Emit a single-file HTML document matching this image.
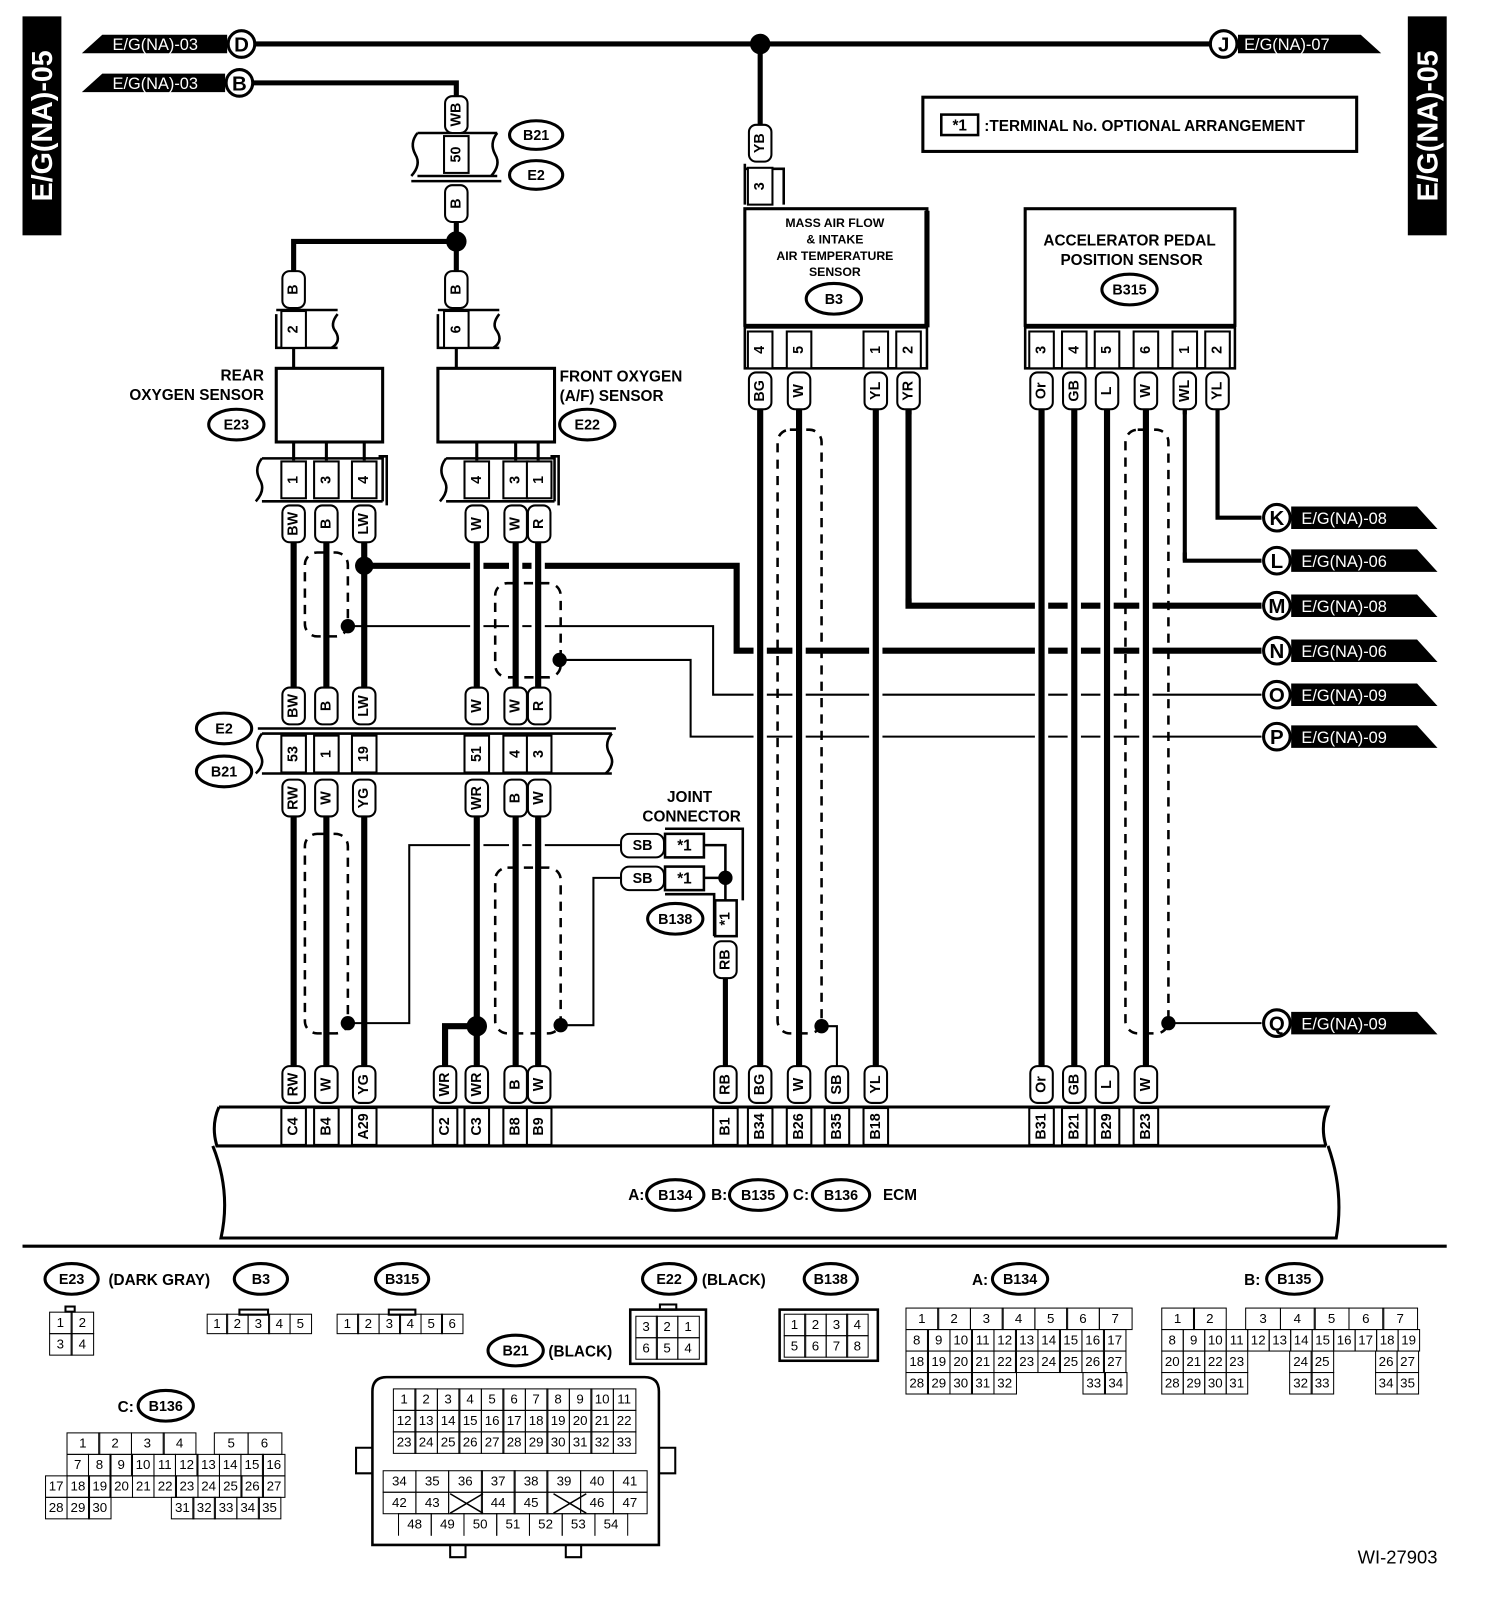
<!DOCTYPE html>
<html><head><meta charset="utf-8">
<style>
html,body{margin:0;padding:0;background:#fff;}
body{width:1504px;height:1608px;overflow:hidden;position:relative;}
#w{position:absolute;left:0;top:0;width:1470px;height:1572px;transform:scale(1.02313);transform-origin:0 0;}
svg{position:absolute;left:0;top:0;}
text{font-family:"Liberation Sans",sans-serif;font-weight:bold;}
.v{text-anchor:middle;dominant-baseline:central;font-size:14px;}
.c{text-anchor:middle;dominant-baseline:central;}
.t{fill:#fff;font-size:16px;font-weight:normal;}
.n{font-weight:normal;}
.row{position:absolute;display:flex;height:22px;font-family:"Liberation Sans Narrow","Liberation Sans",sans-serif;font-size:13px;}
.row i{font-style:normal;border:1.5px solid #000;margin-left:-1.5px;box-sizing:border-box;height:22px;line-height:19px;text-align:center;display:block;}
.row i.b{border-color:transparent;}
</style></head><body><div id="w">
<svg width="1470" height="1572" viewBox="0 0 1470 1572">
<defs>
<rect id="pv" x="-11" y="-18" width="22" height="36" rx="7" fill="#fff" stroke="#000" stroke-width="2"/>
<rect id="pc" x="-12" y="-18" width="24" height="36" fill="#fff" stroke="#000" stroke-width="2"/>
</defs>
<rect x="22" y="16" width="38" height="214" fill="#000"/>
<text transform="translate(42,123) rotate(-90)" class="c" fill="#fff" font-size="28">E/G(NA)-05</text>
<rect x="1376" y="16" width="38" height="214" fill="#000"/>
<text transform="translate(1396,123) rotate(-90)" class="c" fill="#fff" font-size="28">E/G(NA)-05</text>

<g fill="none" stroke="#000" stroke-width="5">
<path d="M249,43 H1183"/>
<path d="M247,81 H446 V95"/>
<path d="M743,43 V122"/>
<path d="M446,216 V236 H287 V265"/>
<path d="M446,236 V265"/>
</g>
<polygon points="80,52 100,34 222,34 222,52" fill="#000"/>
<text x="110" y="49" class="t">E/G(NA)-03</text>
<polygon points="80,90 100,72 220,72 220,90" fill="#000"/>
<text x="110" y="87" class="t">E/G(NA)-03</text>
<circle cx="236" cy="43" r="13" fill="#fff" stroke="#000" stroke-width="3"/><text x="236" y="44" class="c" font-size="20">D</text>
<circle cx="234" cy="81" r="13" fill="#fff" stroke="#000" stroke-width="3"/><text x="234" y="82" class="c" font-size="20">B</text>
<polygon points="1210,34 1330,34 1350,52 1210,52" fill="#000"/>
<text x="1216" y="49" class="t">E/G(NA)-07</text>
<circle cx="1196" cy="43" r="13" fill="#fff" stroke="#000" stroke-width="3"/><text x="1196" y="44" class="c" font-size="20">J</text>
<circle cx="743" cy="43" r="10"/>
<circle cx="446" cy="236" r="10"/>

<rect x="902" y="95" width="424" height="53" fill="none" stroke="#000" stroke-width="3"/>
<rect x="920" y="112" width="36" height="20" fill="none" stroke="#000" stroke-width="2.5"/>
<text x="938" y="123" class="c" font-size="15">*1</text>
<text x="962" y="128" font-size="15">:TERMINAL No. OPTIONAL ARRANGEMENT</text>

<g fill="none" stroke="#000" stroke-width="2.5">
<path d="M408,130 H486 M408,172 H486 M402,177 H490"/>
<path d="M408,130 q-8,10 -2,21 q6,10 -4,21"/>
<path d="M486,130 q-8,10 -2,21 q6,10 -4,21"/>
</g>
<g transform="translate(446,151)"><use href="#pc"/><text transform="rotate(-90)" class="v">50</text></g>
<g transform="translate(446,112)"><use href="#pv"/><text transform="rotate(-90)" class="v">WB</text></g>
<g transform="translate(446,199)"><use href="#pv"/><text transform="rotate(-90)" class="v">B</text></g>
<ellipse cx="524" cy="132" rx="26" ry="14" fill="#fff" stroke="#000" stroke-width="3"/><text x="524" y="133" class="c" font-size="14">B21</text>
<ellipse cx="524" cy="171" rx="26" ry="14" fill="#fff" stroke="#000" stroke-width="3"/><text x="524" y="172" class="c" font-size="14">E2</text>

<g transform="translate(287,283)"><use href="#pv"/><text transform="rotate(-90)" class="v">B</text></g>
<g transform="translate(446,283)"><use href="#pv"/><text transform="rotate(-90)" class="v">B</text></g>
<g fill="none" stroke="#000" stroke-width="2.5">
<path d="M270,303 H330 M270,307 V340 H330 M330,307 q-8,10 -2,17 q6,10 -4,16"/>
<path d="M428,303 H488 M428,307 V340 H488 M488,307 q-8,10 -2,17 q6,10 -4,16"/>
<path d="M287,340 V360 M446,340 V360" stroke-width="3"/>
</g>
<g transform="translate(287,322)"><use href="#pc"/><text transform="rotate(-90)" class="v">2</text></g>
<g transform="translate(446,322)"><use href="#pc"/><text transform="rotate(-90)" class="v">6</text></g>

<rect x="270" y="360" width="104" height="72" fill="none" stroke="#000" stroke-width="3"/>
<rect x="428" y="360" width="114" height="72" fill="none" stroke="#000" stroke-width="3"/>
<text x="258" y="372" text-anchor="end" font-size="15">REAR</text>
<text x="258" y="391" text-anchor="end" font-size="15">OXYGEN SENSOR</text>
<text x="547" y="373" font-size="15">FRONT OXYGEN</text>
<text x="547" y="392" font-size="15">(A/F) SENSOR</text>
<ellipse cx="231" cy="415" rx="27" ry="15" fill="#fff" stroke="#000" stroke-width="3"/><text x="231" y="416" class="c" font-size="14">E23</text>
<ellipse cx="574" cy="415" rx="27" ry="15" fill="#fff" stroke="#000" stroke-width="3"/><text x="574" y="416" class="c" font-size="14">E22</text>
<g stroke="#000" stroke-width="3"><path d="M287,432V450M319,432V450M356,432V450M466,432V450M504,432V450M526,432V450"/></g>
<g fill="none" stroke="#000" stroke-width="2.5">
<path d="M256,448 H374 V490 M256,490 H374 M256,448 q-8,10 -2,21 q6,10 -4,21 M370,446 H378 V494"/>
<path d="M436,448 H542 V490 M436,490 H542 M436,448 q-8,10 -2,21 q6,10 -4,21 M538,446 H546 V494"/>
</g>
<g transform="translate(287,469)"><use href="#pc"/><text transform="rotate(-90)" class="v">1</text></g>
<g transform="translate(319,469)"><use href="#pc"/><text transform="rotate(-90)" class="v">3</text></g>
<g transform="translate(356,469)"><use href="#pc"/><text transform="rotate(-90)" class="v">4</text></g>
<g transform="translate(466,469)"><use href="#pc"/><text transform="rotate(-90)" class="v">4</text></g>
<g transform="translate(504,469)"><use href="#pc"/><text transform="rotate(-90)" class="v">3</text></g>
<g transform="translate(527,469)"><use href="#pc"/><text transform="rotate(-90)" class="v">1</text></g>

<g fill="none" stroke="#000">
<path d="M356,553 H720 V636 H1233" stroke-width="6"/>
<path d="M888,400 V592 H1233" stroke-width="6"/>
<path d="M1158,400 V548 H1233" stroke-width="4"/>
<path d="M1190,400 V506 H1233" stroke-width="4"/>
<path d="M340,612 H697 V679 H1233" stroke-width="2"/>
<path d="M547,645 H675 V720 H1233" stroke-width="2"/>
<path d="M340,1000 H400 V826 H606" stroke-width="2"/>
<path d="M548,1002 H580 V858 H606" stroke-width="2"/>
<path d="M1142,1000 H1233" stroke-width="2"/>
<path d="M803,1003 H818 V1042" stroke-width="2"/>
<path d="M466,1003 H435 V1042" stroke-width="6"/>
</g>

<g fill="none" stroke="#fff" stroke-width="13">
<path d="M466,535V667M504,535V667M526,535V667M466,805V995M504,805V1035M526,805V1035M743,405V1035M781,405V1035M856,405V1035M1018,405V1035M1050,405V1035M1082,405V1035M1120,405V1035M888,405V585M1158,405V540"/>
</g>
<g fill="none" stroke="#000" stroke-width="6">
<path d="M287,530V672M319,530V672M356,530V672M466,530V672M504,530V672M526,530V672"/>
<path d="M287,798V1042M319,798V1042M356,798V1042M466,798V1042M504,798V1042M526,798V1042"/>
<path d="M743,400V1042M781,400V1042M856,400V1042M1018,400V1042M1050,400V1042M1082,400V1042M1120,400V1042"/>
<path d="M709,956V1042" stroke-width="5"/>
</g>
<path d="M888,400 V592" stroke="#000" stroke-width="6"/>
<path d="M1158,400 V548 M1190,400 V506" stroke="#000" stroke-width="4"/>

<g fill="none" stroke="#000" stroke-width="2.5" stroke-dasharray="9 7">
<rect x="298" y="540" width="42" height="82" rx="12"/>
<rect x="484" y="570" width="64" height="92" rx="12"/>
<rect x="298" y="815" width="42" height="195" rx="12"/>
<rect x="484" y="848" width="64" height="162" rx="12"/>
<rect x="760" y="420" width="43" height="590" rx="12"/>
<rect x="1100" y="420" width="42" height="590" rx="12"/>
</g>
<g>
<circle cx="356" cy="553" r="9"/><circle cx="340" cy="612" r="7"/><circle cx="547" cy="645" r="7"/>
<circle cx="340" cy="1000" r="7"/><circle cx="548" cy="1002" r="7"/><circle cx="466" cy="1003" r="10"/>
<circle cx="803" cy="1003" r="7"/><circle cx="1142" cy="1000" r="7"/>
</g>

<g transform="translate(287,512)"><use href="#pv"/><text transform="rotate(-90)" class="v">BW</text></g>
<g transform="translate(319,512)"><use href="#pv"/><text transform="rotate(-90)" class="v">B</text></g>
<g transform="translate(356,512)"><use href="#pv"/><text transform="rotate(-90)" class="v">LW</text></g>
<g transform="translate(466,512)"><use href="#pv"/><text transform="rotate(-90)" class="v">W</text></g>
<g transform="translate(504,512)"><use href="#pv"/><text transform="rotate(-90)" class="v">W</text></g>
<g transform="translate(527,512)"><use href="#pv"/><text transform="rotate(-90)" class="v">R</text></g>
<g transform="translate(287,690)"><use href="#pv"/><text transform="rotate(-90)" class="v">BW</text></g>
<g transform="translate(319,690)"><use href="#pv"/><text transform="rotate(-90)" class="v">B</text></g>
<g transform="translate(356,690)"><use href="#pv"/><text transform="rotate(-90)" class="v">LW</text></g>
<g transform="translate(466,690)"><use href="#pv"/><text transform="rotate(-90)" class="v">W</text></g>
<g transform="translate(504,690)"><use href="#pv"/><text transform="rotate(-90)" class="v">W</text></g>
<g transform="translate(527,690)"><use href="#pv"/><text transform="rotate(-90)" class="v">R</text></g>

<g fill="none" stroke="#000" stroke-width="2.5">
<path d="M252,712 H602 M256,717 H598 M256,756 H598"/>
<path d="M256,717 q-8,10 -2,20 q6,10 -4,19"/>
<path d="M598,717 q-8,10 -2,20 q6,10 -4,19"/>
</g>
<g transform="translate(287,737)"><use href="#pc"/><text transform="rotate(-90)" class="v">53</text></g>
<g transform="translate(319,737)"><use href="#pc"/><text transform="rotate(-90)" class="v">1</text></g>
<g transform="translate(356,737)"><use href="#pc"/><text transform="rotate(-90)" class="v">19</text></g>
<g transform="translate(466,737)"><use href="#pc"/><text transform="rotate(-90)" class="v">51</text></g>
<g transform="translate(504,737)"><use href="#pc"/><text transform="rotate(-90)" class="v">4</text></g>
<g transform="translate(527,737)"><use href="#pc"/><text transform="rotate(-90)" class="v">3</text></g>
<ellipse cx="219" cy="712" rx="27" ry="15" fill="#fff" stroke="#000" stroke-width="3"/><text x="219" y="713" class="c" font-size="14">E2</text>
<ellipse cx="219" cy="754" rx="27" ry="15" fill="#fff" stroke="#000" stroke-width="3"/><text x="219" y="755" class="c" font-size="14">B21</text>
<g transform="translate(287,780)"><use href="#pv"/><text transform="rotate(-90)" class="v">RW</text></g>
<g transform="translate(319,780)"><use href="#pv"/><text transform="rotate(-90)" class="v">W</text></g>
<g transform="translate(356,780)"><use href="#pv"/><text transform="rotate(-90)" class="v">YG</text></g>
<g transform="translate(466,780)"><use href="#pv"/><text transform="rotate(-90)" class="v">WR</text></g>
<g transform="translate(504,780)"><use href="#pv"/><text transform="rotate(-90)" class="v">B</text></g>
<g transform="translate(527,780)"><use href="#pv"/><text transform="rotate(-90)" class="v">W</text></g>

<text x="674" y="784" text-anchor="middle" font-size="15">JOINT</text>
<text x="676" y="803" text-anchor="middle" font-size="15">CONNECTOR</text>
<g fill="none" stroke="#000" stroke-width="2.5">
<path d="M650,810 H726 V880 M650,874 H698 V915"/>
<rect x="650" y="815" width="38" height="23" fill="#fff"/>
<rect x="650" y="847" width="38" height="23" fill="#fff"/>
<path d="M688,826 H709 V880 M688,858 H709"/>
<rect x="699" y="880" width="21" height="35" fill="#fff"/>
</g>
<circle cx="709" cy="858" r="7"/>
<text x="669" y="827" class="c" font-size="15">*1</text>
<text x="669" y="859" class="c" font-size="15">*1</text>
<text transform="translate(709,898) rotate(-90)" class="v" font-size="15">*1</text>
<rect x="607" y="815" width="42" height="23" rx="8" fill="#fff" stroke="#000" stroke-width="2"/><text x="628" y="827" class="c" font-size="14">SB</text>
<rect x="607" y="847" width="42" height="23" rx="8" fill="#fff" stroke="#000" stroke-width="2"/><text x="628" y="859" class="c" font-size="14">SB</text>
<ellipse cx="660" cy="898" rx="27" ry="15" fill="#fff" stroke="#000" stroke-width="3"/><text x="660" y="899" class="c" font-size="14">B138</text>
<g transform="translate(709,938)"><use href="#pv"/><text transform="rotate(-90)" class="v">RB</text></g>

<g fill="none" stroke="#000" stroke-width="2.5"><path d="M728,165 H766 V200 M728,160 V200"/></g>
<g transform="translate(743,140)"><use href="#pv"/><text transform="rotate(-90)" class="v">YB</text></g>
<g transform="translate(743,182)"><use href="#pc"/><text transform="rotate(-90)" class="v">3</text></g>
<rect x="728" y="204" width="178" height="114" fill="none" stroke="#000" stroke-width="3"/>
<path d="M906,206 V320" stroke="#000" stroke-width="5"/>
<text x="816" y="222" text-anchor="middle" font-size="12">MASS AIR FLOW</text>
<text x="816" y="238" text-anchor="middle" font-size="12">&amp; INTAKE</text>
<text x="816" y="254" text-anchor="middle" font-size="12">AIR TEMPERATURE</text>
<text x="816" y="270" text-anchor="middle" font-size="12">SENSOR</text>
<ellipse cx="815" cy="292" rx="27" ry="15" fill="#fff" stroke="#000" stroke-width="3"/><text x="815" y="293" class="c" font-size="14">B3</text>
<rect x="728" y="320" width="178" height="40" fill="none" stroke="#000" stroke-width="2.5"/>
<g transform="translate(743,342)"><use href="#pc"/><text transform="rotate(-90)" class="v">4</text></g>
<g transform="translate(781,342)"><use href="#pc"/><text transform="rotate(-90)" class="v">5</text></g>
<g transform="translate(856,342)"><use href="#pc"/><text transform="rotate(-90)" class="v">1</text></g>
<g transform="translate(888,342)"><use href="#pc"/><text transform="rotate(-90)" class="v">2</text></g>
<g transform="translate(743,382)"><use href="#pv"/><text transform="rotate(-90)" class="v">BG</text></g>
<g transform="translate(781,382)"><use href="#pv"/><text transform="rotate(-90)" class="v">W</text></g>
<g transform="translate(856,382)"><use href="#pv"/><text transform="rotate(-90)" class="v">YL</text></g>
<g transform="translate(888,382)"><use href="#pv"/><text transform="rotate(-90)" class="v">YR</text></g>

<rect x="1002" y="204" width="205" height="114" fill="none" stroke="#000" stroke-width="3"/>
<text x="1104" y="240" text-anchor="middle" font-size="15">ACCELERATOR PEDAL</text>
<text x="1106" y="259" text-anchor="middle" font-size="15">POSITION SENSOR</text>
<ellipse cx="1104" cy="283" rx="27" ry="15" fill="#fff" stroke="#000" stroke-width="3"/><text x="1104" y="284" class="c" font-size="14">B315</text>
<rect x="1002" y="320" width="205" height="40" fill="none" stroke="#000" stroke-width="2.5"/>
<g transform="translate(1018,342)"><use href="#pc"/><text transform="rotate(-90)" class="v">3</text></g>
<g transform="translate(1050,342)"><use href="#pc"/><text transform="rotate(-90)" class="v">4</text></g>
<g transform="translate(1082,342)"><use href="#pc"/><text transform="rotate(-90)" class="v">5</text></g>
<g transform="translate(1120,342)"><use href="#pc"/><text transform="rotate(-90)" class="v">6</text></g>
<g transform="translate(1158,342)"><use href="#pc"/><text transform="rotate(-90)" class="v">1</text></g>
<g transform="translate(1190,342)"><use href="#pc"/><text transform="rotate(-90)" class="v">2</text></g>
<g transform="translate(1018,382)"><use href="#pv"/><text transform="rotate(-90)" class="v">Or</text></g>
<g transform="translate(1050,382)"><use href="#pv"/><text transform="rotate(-90)" class="v">GB</text></g>
<g transform="translate(1082,382)"><use href="#pv"/><text transform="rotate(-90)" class="v">L</text></g>
<g transform="translate(1120,382)"><use href="#pv"/><text transform="rotate(-90)" class="v">W</text></g>
<g transform="translate(1158,382)"><use href="#pv"/><text transform="rotate(-90)" class="v">WL</text></g>
<g transform="translate(1190,382)"><use href="#pv"/><text transform="rotate(-90)" class="v">YL</text></g>

<g>
<polygon points="1262,495 1385,495 1405,517 1262,517"/><circle cx="1248" cy="506" r="13" fill="#fff" stroke="#000" stroke-width="3"/><text x="1248" y="507" class="c" font-size="20">K</text><text x="1272" y="512" class="t">E/G(NA)-08</text>
<polygon points="1262,537 1385,537 1405,559 1262,559"/><circle cx="1248" cy="548" r="13" fill="#fff" stroke="#000" stroke-width="3"/><text x="1248" y="549" class="c" font-size="20">L</text><text x="1272" y="554" class="t">E/G(NA)-06</text>
<polygon points="1262,581 1385,581 1405,603 1262,603"/><circle cx="1248" cy="592" r="13" fill="#fff" stroke="#000" stroke-width="3"/><text x="1248" y="593" class="c" font-size="20">M</text><text x="1272" y="598" class="t">E/G(NA)-08</text>
<polygon points="1262,625 1385,625 1405,647 1262,647"/><circle cx="1248" cy="636" r="13" fill="#fff" stroke="#000" stroke-width="3"/><text x="1248" y="637" class="c" font-size="20">N</text><text x="1272" y="642" class="t">E/G(NA)-06</text>
<polygon points="1262,668 1385,668 1405,690 1262,690"/><circle cx="1248" cy="679" r="13" fill="#fff" stroke="#000" stroke-width="3"/><text x="1248" y="680" class="c" font-size="20">O</text><text x="1272" y="685" class="t">E/G(NA)-09</text>
<polygon points="1262,709 1385,709 1405,731 1262,731"/><circle cx="1248" cy="720" r="13" fill="#fff" stroke="#000" stroke-width="3"/><text x="1248" y="721" class="c" font-size="20">P</text><text x="1272" y="726" class="t">E/G(NA)-09</text>
<polygon points="1262,989 1385,989 1405,1011 1262,1011"/><circle cx="1248" cy="1000" r="13" fill="#fff" stroke="#000" stroke-width="3"/><text x="1248" y="1001" class="c" font-size="20">Q</text><text x="1272" y="1006" class="t">E/G(NA)-09</text>
</g>

<g fill="none" stroke="#000" stroke-width="3">
<path d="M214,1082 H1298 q-8,18 -2,38 M214,1082 q-8,18 -2,38 H1296"/>
<path d="M208,1120 q18,45 8,90 H1306 q8,-45 -8,-90"/>
</g>
<g transform="translate(287,1060)"><use href="#pv"/><text transform="rotate(-90)" class="v">RW</text></g>
<g transform="translate(319,1060)"><use href="#pv"/><text transform="rotate(-90)" class="v">W</text></g>
<g transform="translate(356,1060)"><use href="#pv"/><text transform="rotate(-90)" class="v">YG</text></g>
<g transform="translate(435,1060)"><use href="#pv"/><text transform="rotate(-90)" class="v">WR</text></g>
<g transform="translate(466,1060)"><use href="#pv"/><text transform="rotate(-90)" class="v">WR</text></g>
<g transform="translate(504,1060)"><use href="#pv"/><text transform="rotate(-90)" class="v">B</text></g>
<g transform="translate(527,1060)"><use href="#pv"/><text transform="rotate(-90)" class="v">W</text></g>
<g transform="translate(709,1060)"><use href="#pv"/><text transform="rotate(-90)" class="v">RB</text></g>
<g transform="translate(743,1060)"><use href="#pv"/><text transform="rotate(-90)" class="v">BG</text></g>
<g transform="translate(781,1060)"><use href="#pv"/><text transform="rotate(-90)" class="v">W</text></g>
<g transform="translate(818,1060)"><use href="#pv"/><text transform="rotate(-90)" class="v">SB</text></g>
<g transform="translate(856,1060)"><use href="#pv"/><text transform="rotate(-90)" class="v">YL</text></g>
<g transform="translate(1018,1060)"><use href="#pv"/><text transform="rotate(-90)" class="v">Or</text></g>
<g transform="translate(1050,1060)"><use href="#pv"/><text transform="rotate(-90)" class="v">GB</text></g>
<g transform="translate(1082,1060)"><use href="#pv"/><text transform="rotate(-90)" class="v">L</text></g>
<g transform="translate(1120,1060)"><use href="#pv"/><text transform="rotate(-90)" class="v">W</text></g>
<g transform="translate(287,1101)"><use href="#pc"/><text transform="rotate(-90)" class="v">C4</text></g>
<g transform="translate(319,1101)"><use href="#pc"/><text transform="rotate(-90)" class="v">B4</text></g>
<g transform="translate(356,1101)"><use href="#pc"/><text transform="rotate(-90)" class="v">A29</text></g>
<g transform="translate(435,1101)"><use href="#pc"/><text transform="rotate(-90)" class="v">C2</text></g>
<g transform="translate(466,1101)"><use href="#pc"/><text transform="rotate(-90)" class="v">C3</text></g>
<g transform="translate(504,1101)"><use href="#pc"/><text transform="rotate(-90)" class="v">B8</text></g>
<g transform="translate(527,1101)"><use href="#pc"/><text transform="rotate(-90)" class="v">B9</text></g>
<g transform="translate(709,1101)"><use href="#pc"/><text transform="rotate(-90)" class="v">B1</text></g>
<g transform="translate(743,1101)"><use href="#pc"/><text transform="rotate(-90)" class="v">B34</text></g>
<g transform="translate(781,1101)"><use href="#pc"/><text transform="rotate(-90)" class="v">B26</text></g>
<g transform="translate(818,1101)"><use href="#pc"/><text transform="rotate(-90)" class="v">B35</text></g>
<g transform="translate(856,1101)"><use href="#pc"/><text transform="rotate(-90)" class="v">B18</text></g>
<g transform="translate(1018,1101)"><use href="#pc"/><text transform="rotate(-90)" class="v">B31</text></g>
<g transform="translate(1050,1101)"><use href="#pc"/><text transform="rotate(-90)" class="v">B21</text></g>
<g transform="translate(1082,1101)"><use href="#pc"/><text transform="rotate(-90)" class="v">B29</text></g>
<g transform="translate(1120,1101)"><use href="#pc"/><text transform="rotate(-90)" class="v">B23</text></g>
<text x="614" y="1173" font-size="15">A:</text>
<ellipse cx="660" cy="1168" rx="28" ry="15" fill="#fff" stroke="#000" stroke-width="3"/><text x="660" y="1169" class="c" font-size="14">B134</text>
<text x="695" y="1173" font-size="15">B:</text>
<ellipse cx="741" cy="1168" rx="28" ry="15" fill="#fff" stroke="#000" stroke-width="3"/><text x="741" y="1169" class="c" font-size="14">B135</text>
<text x="775" y="1173" font-size="15">C:</text>
<ellipse cx="822" cy="1168" rx="28" ry="15" fill="#fff" stroke="#000" stroke-width="3"/><text x="822" y="1169" class="c" font-size="14">B136</text>
<text x="863" y="1173" font-size="15">ECM</text>

<path d="M22,1218 H1414" stroke="#000" stroke-width="3"/>

<ellipse cx="70" cy="1250" rx="26" ry="15" fill="#fff" stroke="#000" stroke-width="3"/><text x="70" y="1251" class="c" font-size="14">E23</text>
<text x="106" y="1256" font-size="15">(DARK GRAY)</text>
<ellipse cx="255" cy="1250" rx="26" ry="15" fill="#fff" stroke="#000" stroke-width="3"/><text x="255" y="1251" class="c" font-size="14">B3</text>
<ellipse cx="393" cy="1250" rx="26" ry="15" fill="#fff" stroke="#000" stroke-width="3"/><text x="393" y="1251" class="c" font-size="14">B315</text>
<ellipse cx="654" cy="1250" rx="26" ry="15" fill="#fff" stroke="#000" stroke-width="3"/><text x="654" y="1251" class="c" font-size="14">E22</text>
<text x="686" y="1256" font-size="15">(BLACK)</text>
<ellipse cx="812" cy="1250" rx="26" ry="15" fill="#fff" stroke="#000" stroke-width="3"/><text x="812" y="1251" class="c" font-size="14">B138</text>
<text x="950" y="1256" font-size="15">A:</text>
<ellipse cx="997" cy="1250" rx="27" ry="15" fill="#fff" stroke="#000" stroke-width="3"/><text x="997" y="1251" class="c" font-size="14">B134</text>
<text x="1216" y="1256" font-size="15">B:</text>
<ellipse cx="1265" cy="1250" rx="27" ry="15" fill="#fff" stroke="#000" stroke-width="3"/><text x="1265" y="1251" class="c" font-size="14">B135</text>
<ellipse cx="504" cy="1320" rx="27" ry="15" fill="#fff" stroke="#000" stroke-width="3"/><text x="504" y="1321" class="c" font-size="14">B21</text>
<text x="536" y="1326" font-size="15">(BLACK)</text>
<text x="115" y="1380" font-size="15">C:</text>
<ellipse cx="162" cy="1374" rx="27" ry="15" fill="#fff" stroke="#000" stroke-width="3"/><text x="162" y="1375" class="c" font-size="14">B136</text>

<g fill="none" stroke="#000" stroke-width="2">
<rect x="64" y="1277" width="9" height="5"/>
<rect x="234" y="1280" width="28" height="5"/>
<rect x="380" y="1280" width="26" height="5"/>
<rect x="616" y="1280" width="74" height="53" stroke-width="2.5"/>
<rect x="645" y="1275" width="16" height="5"/>
<rect x="762" y="1280" width="96" height="50" stroke-width="2.5"/>
<path d="M364,1360 q0,-14 14,-14 H630 q14,0 14,14 V1510 H364 Z" stroke-width="2.5"/>
<path d="M364,1415 H348 V1440 H364 M644,1415 H660 V1440 H644"/>
<path d="M440,1510 V1522 H455 V1510 M553,1510 V1522 H568 V1510"/>
</g>
<text x="1405" y="1528" text-anchor="end" font-size="18" class="n">WI-27903</text>
</svg>

<div class="row" style="left:49px;top:1282px"><i style="width:23px">1</i><i style="width:23px">2</i></div>
<div class="row" style="left:49px;top:1303px"><i style="width:23px">3</i><i style="width:23px">4</i></div>
<div class="row" style="left:203px;top:1284px;height:20px"><i style="width:21px;height:20px;line-height:17px">1</i><i style="width:22px;height:20px;line-height:17px">2</i><i style="width:22px;height:20px;line-height:17px">3</i><i style="width:22px;height:20px;line-height:17px">4</i><i style="width:22px;height:20px;line-height:17px">5</i></div>
<div class="row" style="left:330px;top:1284px;height:20px"><i style="width:22px;height:20px;line-height:17px">1</i><i style="width:22px;height:20px;line-height:17px">2</i><i style="width:22px;height:20px;line-height:17px">3</i><i style="width:22px;height:20px;line-height:17px">4</i><i style="width:22px;height:20px;line-height:17px">5</i><i style="width:22px;height:20px;line-height:17px">6</i></div>
<div class="row" style="left:622px;top:1286px"><i style="width:22px">3</i><i style="width:22px">2</i><i style="width:22px">1</i></div>
<div class="row" style="left:622px;top:1307px"><i style="width:22px">6</i><i style="width:22px">5</i><i style="width:22px">4</i></div>
<div class="row" style="left:767px;top:1284px"><i style="width:22px">1</i><i style="width:22px">2</i><i style="width:22px">3</i><i style="width:22px">4</i></div>
<div class="row" style="left:767px;top:1305px"><i style="width:22px">5</i><i style="width:22px">6</i><i style="width:22px">7</i><i style="width:22px">8</i></div>

<div class="row" style="left:886px;top:1278px"><i style="width:33px">1</i><i style="width:33px">2</i><i style="width:33px">3</i><i style="width:33px">4</i><i style="width:33px">5</i><i style="width:33px">6</i><i style="width:33px">7</i></div>
<div class="row" style="left:886px;top:1299px"><i style="width:23px">8</i><i style="width:23px">9</i><i style="width:23px">10</i><i style="width:23px">11</i><i style="width:23px">12</i><i style="width:23px">13</i><i style="width:23px">14</i><i style="width:23px">15</i><i style="width:23px">16</i><i style="width:23px">17</i></div>
<div class="row" style="left:886px;top:1320px"><i style="width:23px">18</i><i style="width:23px">19</i><i style="width:23px">20</i><i style="width:23px">21</i><i style="width:23px">22</i><i style="width:23px">23</i><i style="width:23px">24</i><i style="width:23px">25</i><i style="width:23px">26</i><i style="width:23px">27</i></div>
<div class="row" style="left:886px;top:1341px"><i style="width:23px">28</i><i style="width:23px">29</i><i style="width:23px">30</i><i style="width:23px">31</i><i style="width:23px">32</i><i class="b" style="width:67px"></i><i style="width:23px">33</i><i style="width:23px">34</i></div>

<div class="row" style="left:1136px;top:1278px"><i style="width:33px">1</i><i style="width:33px">2</i><i class="b" style="width:21px"></i><i style="width:35px">3</i><i style="width:35px">4</i><i style="width:35px">5</i><i style="width:35px">6</i><i style="width:35px">7</i></div>
<div class="row" style="left:1136px;top:1299px"><i style="width:22.5px">8</i><i style="width:22.5px">9</i><i style="width:22.5px">10</i><i style="width:22.5px">11</i><i style="width:22.5px">12</i><i style="width:22.5px">13</i><i style="width:22.5px">14</i><i style="width:22.5px">15</i><i style="width:22.5px">16</i><i style="width:22.5px">17</i><i style="width:22.5px">18</i><i style="width:22.5px">19</i></div>
<div class="row" style="left:1136px;top:1320px"><i style="width:22.5px">20</i><i style="width:22.5px">21</i><i style="width:22.5px">22</i><i style="width:22.5px">23</i><i class="b" style="width:43px"></i><i style="width:22.5px">24</i><i style="width:22.5px">25</i><i class="b" style="width:43px"></i><i style="width:22.5px">26</i><i style="width:22.5px">27</i></div>
<div class="row" style="left:1136px;top:1341px"><i style="width:22.5px">28</i><i style="width:22.5px">29</i><i style="width:22.5px">30</i><i style="width:22.5px">31</i><i class="b" style="width:43px"></i><i style="width:22.5px">32</i><i style="width:22.5px">33</i><i class="b" style="width:43px"></i><i style="width:22.5px">34</i><i style="width:22.5px">35</i></div>

<div class="row" style="left:66px;top:1400px"><i style="width:33px">1</i><i style="width:33px">2</i><i style="width:33px">3</i><i style="width:33px">4</i><i class="b" style="width:20px"></i><i style="width:34px">5</i><i style="width:34px">6</i></div>
<div class="row" style="left:66px;top:1421px"><i style="width:22.8px">7</i><i style="width:22.8px">8</i><i style="width:22.8px">9</i><i style="width:22.8px">10</i><i style="width:22.8px">11</i><i style="width:22.8px">12</i><i style="width:22.8px">13</i><i style="width:22.8px">14</i><i style="width:22.8px">15</i><i style="width:22.8px">16</i></div>
<div class="row" style="left:45px;top:1442px"><i style="width:22.8px">17</i><i style="width:22.8px">18</i><i style="width:22.8px">19</i><i style="width:22.8px">20</i><i style="width:22.8px">21</i><i style="width:22.8px">22</i><i style="width:22.8px">23</i><i style="width:22.8px">24</i><i style="width:22.8px">25</i><i style="width:22.8px">26</i><i style="width:22.8px">27</i></div>
<div class="row" style="left:45px;top:1463px"><i style="width:22.8px">28</i><i style="width:22.8px">29</i><i style="width:22.8px">30</i><i class="b" style="width:61px"></i><i style="width:22.8px">31</i><i style="width:22.8px">32</i><i style="width:22.8px">33</i><i style="width:22.8px">34</i><i style="width:22.8px">35</i></div>

<div class="row" style="left:385px;top:1357px"><i style="width:23px">1</i><i style="width:23px">2</i><i style="width:23px">3</i><i style="width:23px">4</i><i style="width:23px">5</i><i style="width:23px">6</i><i style="width:23px">7</i><i style="width:23px">8</i><i style="width:23px">9</i><i style="width:23px">10</i><i style="width:23px">11</i></div>
<div class="row" style="left:385px;top:1378px"><i style="width:23px">12</i><i style="width:23px">13</i><i style="width:23px">14</i><i style="width:23px">15</i><i style="width:23px">16</i><i style="width:23px">17</i><i style="width:23px">18</i><i style="width:23px">19</i><i style="width:23px">20</i><i style="width:23px">21</i><i style="width:23px">22</i></div>
<div class="row" style="left:385px;top:1399px"><i style="width:23px">23</i><i style="width:23px">24</i><i style="width:23px">25</i><i style="width:23px">26</i><i style="width:23px">27</i><i style="width:23px">28</i><i style="width:23px">29</i><i style="width:23px">30</i><i style="width:23px">31</i><i style="width:23px">32</i><i style="width:23px">33</i></div>
<div class="row" style="left:375px;top:1437px"><i style="width:33.7px">34</i><i style="width:33.7px">35</i><i style="width:33.7px">36</i><i style="width:33.7px">37</i><i style="width:33.7px">38</i><i style="width:33.7px">39</i><i style="width:33.7px">40</i><i style="width:33.7px">41</i></div>
<div class="row" style="left:375px;top:1458px"><i style="width:33.7px">42</i><i style="width:33.7px">43</i><i style="width:33.7px"></i><i style="width:33.7px">44</i><i style="width:33.7px">45</i><i style="width:33.7px"></i><i style="width:33.7px">46</i><i style="width:33.7px">47</i></div>
<div class="row" style="left:390px;top:1479px"><i style="width:33.5px;border-bottom:none">48</i><i style="width:33.5px;border-bottom:none">49</i><i style="width:33.5px;border-bottom:none">50</i><i style="width:33.5px;border-bottom:none">51</i><i style="width:33.5px;border-bottom:none">52</i><i style="width:33.5px;border-bottom:none">53</i><i style="width:33.5px;border-bottom:none">54</i></div>
<svg width="1470" height="1572" viewBox="0 0 1470 1572" style="pointer-events:none">
<path d="M440,1460 L472,1479 M472,1460 L440,1479 M541,1460 L573,1479 M573,1460 L541,1479" stroke="#000" stroke-width="1.5"/>
</svg>
</div></body></html>
